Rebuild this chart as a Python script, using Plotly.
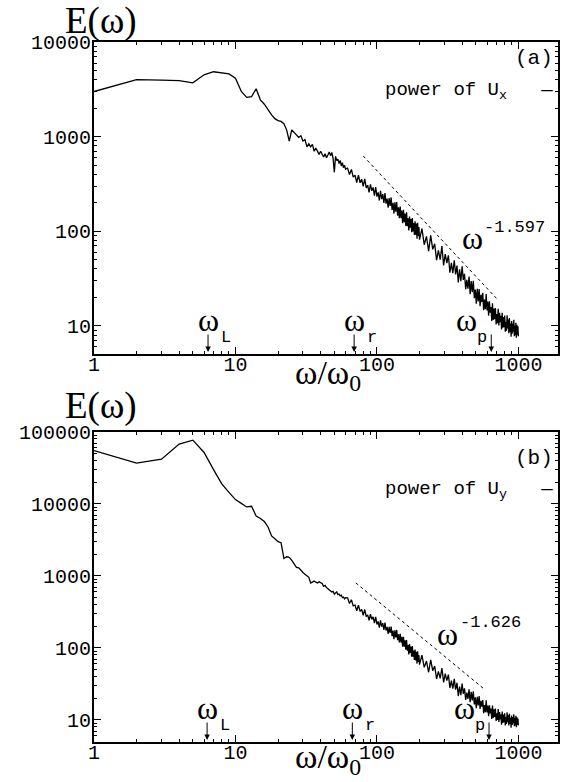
import math
import plotly.graph_objects as go

# ---------------------------------------------------------------- data
# sampling frequencies (omega / omega_0)
omega_low = list(range(1, 61))
omega_mid = list(range(62, 201, 2))
omega_high = list(range(208, 1001, 8))

# (a) power spectrum of U_x
e_ux_low = [3000, 4000, 3950, 3900, 3700, 4500, 4850, 4700, 4600, 4150,
            3000, 2600, 2650, 3200, 2450, 2200, 1900, 1700, 1550, 1480,
            1450, 1370, 1180, 900, 1180, 1100, 1050, 980, 1020, 900,
            930, 780, 840, 780, 830, 700, 760, 690, 650, 700,
            640, 610, 660, 600, 640, 690, 630, 680, 590, 420,
            620, 560, 580, 520, 560, 490, 530, 470, 500, 455]
e_ux_mid = [466, 397, 451, 373, 393, 328, 393, 326, 355, 298,
            359, 288, 307, 258, 314, 268, 291, 238, 294, 233,
            258, 212, 267, 219, 247, 200, 253, 196, 222, 178,
            225, 186, 228, 168, 200, 154, 202, 161, 204, 146,
            179, 138, 183, 138, 166, 122, 169, 125, 154, 114,
            159, 113, 137, 102, 143, 109, 135, 97.8, 138, 99.7,
            122, 91.6, 128, 92.2, 121, 83.6, 123, 89.1, 111, 81.6]
e_ux_high = [107, 72.2, 88.3, 61.6, 90.5, 64.4, 73.9, 49.5, 63.0, 50.2,
             69.9, 43.6, 57.6, 46.1, 55.8, 36.5, 46.5, 36.1, 49.4, 35.1,
             43.5, 28.8, 39.6, 29.8, 42.8, 30.7, 35.6, 24.4, 30.7, 24.8,
             33.3, 21.7, 29.8, 22.8, 30.0, 19.7, 24.3, 17.2, 24.7, 18.2,
             24.6, 16.2, 21.4, 17.9, 22.4, 14.7, 19.0, 15.0, 21.8, 14.6,
             18.1, 12.8, 18.2, 13.8, 15.9, 11.3, 17.4, 11.6, 15.3, 11.8,
             15.5, 10.4, 13.4, 10.7, 15.2, 10.1, 13.8, 11.0, 12.8, 9.2,
             13.8, 9.6, 12.4, 9.7, 12.9, 8.7, 11.1, 8.9, 13.0, 9.4,
             11.7, 8.4, 12.1, 8.7, 10.6, 7.7, 11.3, 8.3, 10.6, 8.7,
             11.6, 7.8, 10.1, 8.0, 10.8, 7.5, 10.3, 8.1, 9.9, 7.8]

# (b) power spectrum of U_y
e_uy_low = [55000, 37000, 42000, 68000, 77000, 52000, 30000, 19000, 14500, 11500,
            10200, 9100, 9300, 6800, 6300, 5700, 4800, 3600, 3300, 3000,
            2900, 1750, 1850, 1820, 1650, 1450, 1320, 1300, 1180, 1120,
            1060, 1000, 960, 800, 830, 850, 820, 800, 830, 800,
            790, 720, 740, 690, 660, 650, 620, 600, 610, 560,
            580, 600, 550, 560, 530, 540, 500, 510, 480, 500]
e_uy_mid = [498, 414, 468, 385, 395, 329, 392, 322, 342, 285,
            342, 273, 288, 242, 294, 250, 270, 221, 270, 212,
            234, 192, 241, 198, 221, 178, 225, 175, 196, 157,
            197, 162, 198, 146, 174, 133, 176, 140, 178, 128,
            155, 119, 157, 119, 143, 104, 143, 104, 128, 94.6,
            129, 91.5, 110, 81.3, 113, 85.6, 105, 75.7, 106, 75.7,
            92.1, 68.0, 94.8, 67.0, 88.2, 60.7, 89.8, 63.9, 79.8, 58.7]
e_uy_high = [79.7, 53.8, 65.9, 46.0, 68.2, 48.3, 56.0, 37.1, 47.3, 37.8,
             52.7, 33.2, 43.9, 35.2, 42.6, 27.8, 35.3, 27.3, 37.2, 26.4,
             32.7, 21.5, 29.2, 22.1, 32.1, 23.1, 27.5, 19.0, 24.0, 19.6,
             26.6, 17.6, 24.6, 18.7, 25.0, 16.4, 20.6, 14.6, 21.0, 15.9,
             21.5, 14.2, 18.5, 15.3, 18.9, 12.4, 16.1, 12.8, 18.7, 12.7,
             15.8, 11.3, 16.0, 12.3, 14.4, 10.3, 15.9, 10.7, 14.1, 11.0,
             14.4, 9.7, 12.4, 10.0, 14.2, 9.4, 12.9, 10.2, 12.0, 8.6,
             13.1, 9.1, 11.9, 9.3, 12.4, 8.4, 10.9, 8.8, 12.8, 9.3,
             11.7, 8.4, 12.2, 8.8, 10.7, 7.8, 11.5, 8.5, 11.0, 9.0,
             12.0, 8.2, 10.6, 8.4, 11.4, 7.9, 10.9, 8.6, 10.5, 8.4]

# power-law guide lines: exponent, frequency span, level at the first frequency
fit_exp_a, fit_span_a, fit_level_a = -1.597, [80, 720], 625
fit_exp_b, fit_span_b, fit_level_b = -1.626, [71, 563], 800

# characteristic frequencies marked on the axis
marks_a = {"L": 6.4, "r": 69, "p": 643}
marks_b = {"L": 6.3, "r": 67, "p": 620}

x_ticks = [1, 10, 100, 1000]
y_ticks_a = [10, 100, 1000, 10000]
y_ticks_b = [10, 100, 1000, 10000, 100000]

# ---------------------------------------------------------------- layout geometry
W, H = 567, 782
L, R, T, B = 94, 560, 42, 742
DOM_A = [(B - 354) / (B - T), 1.0]
DOM_B = [0.0, (B - 432) / (B - T)]

SERIF = "Liberation Serif"
MONO = "Liberation Mono"


def px(x):
    return (x - L) / (R - L)


def py(y):
    return (B - y) / (B - T)


omega = omega_low + omega_mid + omega_high
e_ux = e_ux_low + e_ux_mid + e_ux_high
e_uy = e_uy_low + e_uy_mid + e_uy_high


def guide(span, level, exponent):
    return [level * (w / span[0]) ** exponent for w in span]


curve_style = dict(color="black", width=1.3)
guide_style = dict(color="black", width=1, dash="dot")

fig = go.Figure()
fig.add_trace(go.Scatter(x=omega, y=e_ux, mode="lines", xaxis="x", yaxis="y",
                         line=curve_style, showlegend=False))
fig.add_trace(go.Scatter(x=fit_span_a, y=guide(fit_span_a, fit_level_a, fit_exp_a),
                         mode="lines", xaxis="x", yaxis="y",
                         line=guide_style, showlegend=False))
fig.add_trace(go.Scatter(x=omega, y=e_uy, mode="lines", xaxis="x2", yaxis="y2",
                         line=curve_style, showlegend=False))
fig.add_trace(go.Scatter(x=fit_span_b, y=guide(fit_span_b, fit_level_b, fit_exp_b),
                         mode="lines", xaxis="x2", yaxis="y2",
                         line=guide_style, showlegend=False))


def minor_vals(lo, hi):
    return [m * 10 ** d for d in range(lo, hi) for m in range(2, 10)]


def minor_ticks(lo, hi):
    return dict(tickvals=minor_vals(lo, hi), ticks="inside", ticklen=3,
                tickwidth=1, tickcolor="black")


axis_common = dict(
    type="log", showline=True, linewidth=2, linecolor="black", mirror="ticks",
    ticks="inside", ticklen=7, tickwidth=1.3, tickcolor="black",
    showgrid=False, zeroline=False,
    tickfont=dict(family=MONO, size=20, color="black"),
)

x_axis = dict(axis_common, range=[0, 3.28], tickvals=x_ticks,
              ticktext=[str(v) for v in x_ticks], ticklabelstandoff=-9,
              minor=minor_ticks(0, 4))

fig.update_layout(
    width=W, height=H,
    margin=dict(l=L, r=W - R, t=T, b=H - B),
    paper_bgcolor="white", plot_bgcolor="white",
    xaxis=dict(x_axis, anchor="y", domain=[0, 1]),
    xaxis2=dict(x_axis, anchor="y2", domain=[0, 1]),
    yaxis=dict(axis_common, anchor="x", domain=DOM_A, range=[0.704, 4.0],
               tickvals=y_ticks_a, ticktext=[str(v) for v in y_ticks_a],
               ticklabelstandoff=-3, minor=minor_ticks(0, 4)),
    yaxis2=dict(axis_common, anchor="x2", domain=DOM_B, range=[0.694, 5.0],
                tickvals=y_ticks_b, ticktext=[str(v) for v in y_ticks_b],
                ticklabelstandoff=-3, minor=minor_ticks(0, 5)),
)

ann = []


def text_at(x, y, text, family, size, xanchor="center", yanchor="middle"):
    ann.append(dict(xref="paper", yref="paper", x=px(x), y=py(y), text=text,
                    showarrow=False, xanchor=xanchor, yanchor=yanchor,
                    font=dict(family=family, size=size, color="black")))


# axis titles
text_at(101, 21, "E(ω)", SERIF, 37)
text_at(101, 406, "E(ω)", SERIF, 37)
text_at(329, 375, "ω/ω<sub>0</sub>", SERIF, 34)
text_at(329, 759, "ω/ω<sub>0</sub>", SERIF, 34)

# panel tags and legend entries
text_at(557, 59, "(a)", MONO, 21, xanchor="right")
text_at(557, 91, "power of U<sub>x</sub>&nbsp;&nbsp;&nbsp;—", MONO, 19, xanchor="right")
text_at(557, 458, "(b)", MONO, 21, xanchor="right")
text_at(557, 490, "power of U<sub>y</sub>&nbsp;&nbsp;&nbsp;—", MONO, 19, xanchor="right")

# power-law labels
text_at(474, 238, "ω", SERIF, 32)
text_at(484, 228, "-1.597", MONO, 17, xanchor="left")
text_at(449, 634, "ω", SERIF, 32)
text_at(460, 622, "-1.626", MONO, 17, xanchor="left")


def mark(xref, yref, freq, sub, label_dx, sub_dx):
    lx = math.log10(freq)
    ann.append(dict(xref=xref, yref=yref + " domain", x=lx, y=0, yshift=2,
                    text="", showarrow=True, ax=0, ay=-19, arrowhead=2,
                    arrowsize=1.1, arrowwidth=1, arrowcolor="black"))
    ann.append(dict(xref=xref, yref=yref + " domain", x=lx, y=0,
                    xshift=label_dx, yshift=14, text="ω", showarrow=False,
                    xanchor="center", yanchor="bottom",
                    font=dict(family=SERIF, size=32, color="black")))
    ann.append(dict(xref=xref, yref=yref + " domain", x=lx, y=0,
                    xshift=label_dx + sub_dx, yshift=5, text=sub,
                    showarrow=False, xanchor="left", yanchor="bottom",
                    font=dict(family=MONO, size=17, color="black")))


for key, f in marks_a.items():
    mark("x", "y", f, key, -25 if key == "p" else 0, 9 if key == "p" else 11)
for key, f in marks_b.items():
    mark("x2", "y2", f, key, -25 if key == "p" else 0, 9 if key == "p" else 11)

fig.update_layout(annotations=ann)
fig.write_html("out.html")
